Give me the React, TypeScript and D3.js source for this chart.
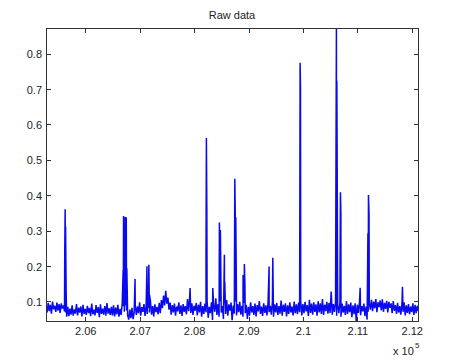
import React from "react";
import * as d3 from "d3";

// Raw sample series: first x and sample spacing, then the baseline samples
const X_START = 205270;
const X_STEP = 20;
const baseline: number[] = [
  0.088,0.070,0.097,0.074,0.092,0.067,0.101,0.079,0.089,0.072,0.098,0.075,0.094,0.069,0.096,0.081,0.090,0.073,
  0.070,0.058,
  0.086,0.060,0.081,0.064,0.090,0.061,0.079,0.067,0.094,0.062,0.084,0.070,0.087,0.059,0.092,0.066,0.080,0.063,0.089,0.068,
  0.083,0.060,0.095,0.065,0.078,0.062,0.091,0.069,0.085,0.057,0.093,0.066,0.081,0.064,0.088,0.061,0.097,0.067,0.082,0.063,
  0.086,0.062,0.090,0.059,0.084,0.065,0.092,0.058,0.080,0.063,0.095,
  0.088,0.072,0.090,0.076,
  0.062,0.050,0.078,0.054,0.083,0.051,0.070,
  0.092,0.063,0.087,0.068,0.099,0.061,0.085,0.072,0.094,0.060,0.090,0.066,0.083,0.070,0.101,0.064,0.088,0.059,0.093,0.071,0.086,0.065,0.097,0.068,
  0.105,0.082,0.118,0.090,0.131,0.095,0.112,
  0.078,0.098,0.064,0.091,0.070,0.095,0.061,0.087,0.073,0.099,0.066,0.090,0.060,0.094,0.072,0.088,0.065,0.108,0.074,0.115,0.069,0.096,0.063,0.089,
  0.075,0.097,0.062,0.092,0.070,0.100,0.058,0.088,0.066,0.095,0.071,0.104,0.055,0.086,
  0.068,0.099,0.049,0.091,0.072,0.110,0.063,0.094,0.058,0.102,0.070,0.088,0.052,0.096,0.066,0.105,0.061,0.093,0.075,0.098,0.048,0.090,0.067,0.101,0.062,
  0.094,0.071,0.100,0.064,0.089,0.058,0.097,0.068,0.092,0.052,0.086,0.061,0.099,0.070,0.088,0.063,0.095,0.059,0.091,0.073,0.102,0.066,0.087,0.060,0.096,0.069,0.090,0.062,0.098,0.071,
  0.089,0.064,0.100,0.058,0.093,0.070,0.097,0.063,0.088,0.067,0.104,0.061,0.092,0.072,0.096,0.059,0.090,0.066,0.099,0.070,0.087,0.062,0.101,0.068,0.093,
  0.065,0.098,0.071,0.103,0.062,0.094,0.068,0.100,0.073,0.091,0.060,0.106,0.069,0.095,0.064,0.099,0.072,0.093,0.061,0.102,0.070,0.096,0.066,0.108,0.063,0.092,0.074,0.100,0.067,0.097,
  0.069,0.129,0.064,0.094,0.072,0.100,0.061,0.091,0.068,0.097,0.058,0.095,0.070,0.089,0.063,0.102,0.066,0.093,0.071,0.098,0.057,0.090,0.065,0.096,0.046,0.092,0.069,0.099,0.062,0.088,0.073,0.095,0.060,0.087,0.050,0.072,
  0.098,0.078,0.106,0.074,0.101,0.082,0.108,0.071,0.099,0.085,0.104,0.076,0.107,0.072,0.097,0.080,0.103,0.070,0.100,0.083,0.096,0.068,0.102,0.075,
  0.091,0.066,0.097,0.070,0.088,0.064,0.095,0.072,0.099,0.062,0.090,0.069,0.094,0.065,0.087,0.071,0.096,0.063,0.092,0.068,0.089,0.074,
];

// Spike samples (x position, value)
const peakX: number[] = [
  205615, 205622, 205630, 205640,
  206688, 206695, 206705, 206715, 206725, 206735, 206745, 206755, 206765,
  206906,
  207125, 207135, 207160, 207172,
  207917,
  208210, 208217, 208225,
  208334,
  208456, 208465, 208474,
  208548, 208555,
  208739, 208748, 208757, 208768,
  208891, 208915, 208925,
  209369, 209437,
  209939, 209946,
  210606, 210614,
  210680, 210688,
  211042,
  211185, 211195, 211205,
  211820,
];
const peakY: number[] = [
  0.25, 0.362, 0.313, 0.13,
  0.19, 0.343, 0.17, 0.195, 0.34, 0.18, 0.339, 0.195, 0.11,
  0.165,
  0.201, 0.14, 0.205, 0.12,
  0.139,
  0.228, 0.563, 0.369,
  0.139,
  0.324, 0.2, 0.303,
  0.233, 0.157,
  0.448, 0.339, 0.339, 0.14,
  0.176, 0.207, 0.15,
  0.2, 0.225,
  0.776, 0.706,
  0.874, 0.725,
  0.41, 0.349,
  0.14,
  0.294, 0.402, 0.349,
  0.143,
];

const xTicks: number[] = [206000, 207000, 208000, 209000, 210000, 211000, 212000];
const xTickLabels: string[] = ["2.06", "2.07", "2.08", "2.09", "2.1", "2.11", "2.12"];
const yTicks: number[] = [0.1, 0.2, 0.3, 0.4, 0.5, 0.6, 0.7, 0.8];
const yTickLabels: string[] = ["0.1", "0.2", "0.3", "0.4", "0.5", "0.6", "0.7", "0.8"];
const TITLE = "Raw data";

export default function App() {
  const W = 476, H = 361;
  const L = 46, R = 418, T = 28, B = 321;

  const pts: [number, number][] = baseline.map((v, i) => [X_START + i * X_STEP, v] as [number, number]);
  peakX.forEach((x, i) => pts.push([x, peakY[i]]));
  pts.sort((a, b) => a[0] - b[0]);

  const xExt = d3.extent(baseline.map((_, i) => X_START + i * X_STEP)) as [number, number];
  const x = d3.scaleLinear().domain([xExt[0], 212105]).range([L, R]);
  const yExt = d3.extent(pts.map((p) => p[1])) as [number, number];
  const y = d3.scaleLinear().domain(yExt).range([B, T]);

  const line = d3.line<[number, number]>().x((d) => x(d[0])).y((d) => y(d[1]));
  const axisColor = "#333";
  const font = "Arial, 'Liberation Sans', Helvetica, sans-serif";
  const tl = 4.5;

  return (
    <svg width={W} height={H} style={{ position: "absolute", left: 0, top: 0, background: "#fff" }}>
      <defs>
        <clipPath id="plotclip">
          <rect x={L} y={T} width={R - L} height={B - T} />
        </clipPath>
      </defs>
      <rect x={0} y={0} width={W} height={H} fill="#fff" />
      <path d={line(pts) || ""} fill="none" stroke="#0a0af0" strokeWidth={1.5} clipPath="url(#plotclip)" strokeLinejoin="bevel" />
      <rect x={L} y={T} width={R - L} height={B - T} fill="none" stroke={axisColor} strokeWidth={1} shapeRendering="crispEdges" />
      {xTicks.map((t, i) => (
        <g key={"xt" + i}>
          <line x1={x(t)} x2={x(t)} y1={B} y2={B - tl} stroke={axisColor} shapeRendering="crispEdges" />
          <line x1={x(t)} x2={x(t)} y1={T} y2={T + tl} stroke={axisColor} shapeRendering="crispEdges" />
          <text x={x(t)} y={334.5} textAnchor="middle" fontSize={11} fontFamily={font} fill="#222">
            {xTickLabels[i]}
          </text>
        </g>
      ))}
      {yTicks.map((t, i) => (
        <g key={"yt" + i}>
          <line x1={L} x2={L + tl} y1={y(t)} y2={y(t)} stroke={axisColor} shapeRendering="crispEdges" />
          <line x1={R} x2={R - tl} y1={y(t)} y2={y(t)} stroke={axisColor} shapeRendering="crispEdges" />
          <text x={42} y={y(t) + 4} textAnchor="end" fontSize={11} fontFamily={font} fill="#222">
            {yTickLabels[i]}
          </text>
        </g>
      ))}
      <text x={232} y={19} textAnchor="middle" fontSize={11} fontFamily={font} fill="#222">
        {TITLE}
      </text>
      <text x={393} y={354.5} fontSize={11} fontFamily={font} fill="#222">
        x 10
      </text>
      <text x={415} y={348} fontSize={8} fontFamily={font} fill="#222">
        5
      </text>
    </svg>
  );
}
